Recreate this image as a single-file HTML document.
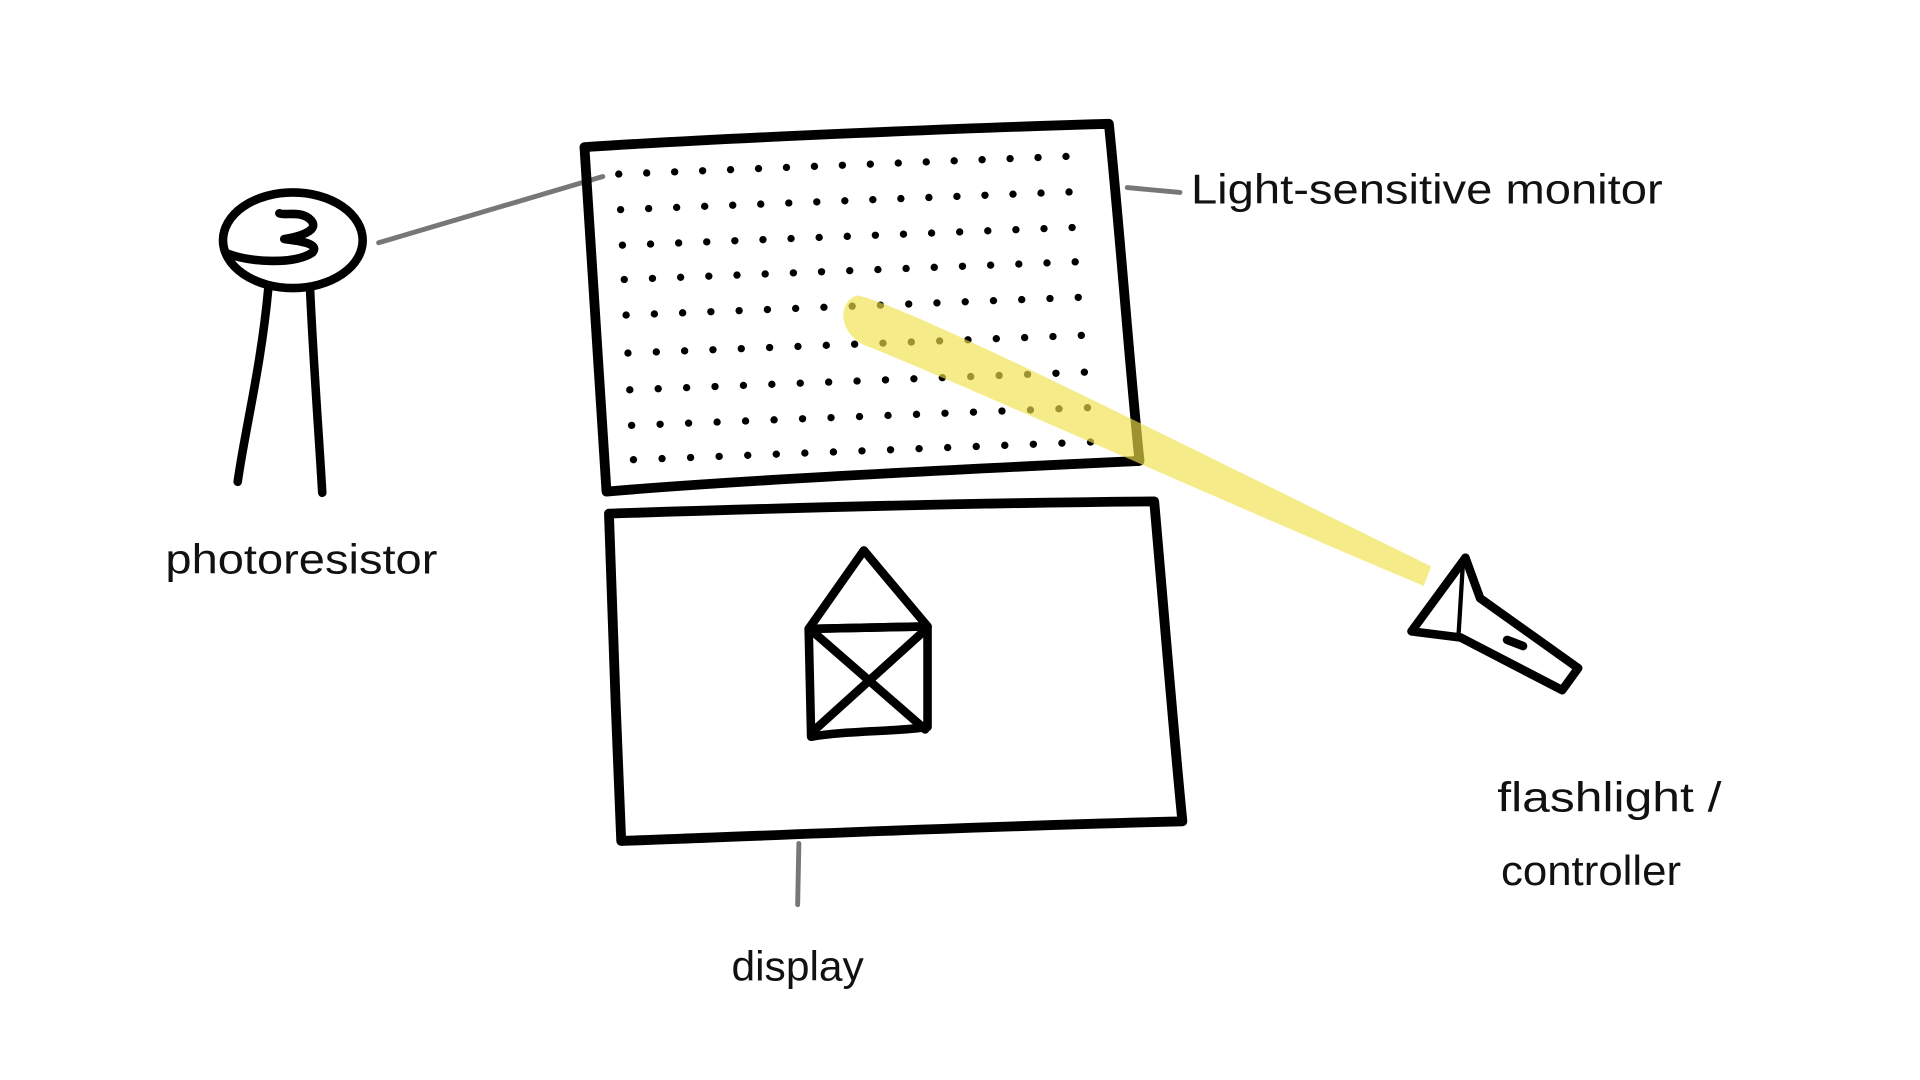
<!DOCTYPE html>
<html><head><meta charset="utf-8"><style>
html,body{margin:0;padding:0;background:#fff;width:1920px;height:1080px;overflow:hidden}
svg{display:block}
text{font-family:"Liberation Sans",sans-serif;fill:#111;font-weight:normal}
</style></head><body>
<svg id="s" width="1920" height="1080" viewBox="0 0 1567 881" preserveAspectRatio="none" xmlns="http://www.w3.org/2000/svg">
<g fill="none" stroke="#000" stroke-width="7" stroke-linecap="round" stroke-linejoin="round">
  <ellipse cx="239" cy="196" rx="57" ry="39"/>
  <path d="M186,207 C205,214 240,216 255,206 C262,198 240,196 232,195 C250,192 262,186 252,178 C244,172 232,176 228,174"/>
  <path d="M219,235 C213,300 200,350 194,393"/>
  <path d="M253,235 C256,300 260,350 263,402"/>
</g>
<g stroke="#777" stroke-width="4" stroke-linecap="round">
  <line x1="309" y1="198" x2="492" y2="144"/>
  <line x1="920" y1="153" x2="963" y2="157"/>
  <line x1="652" y1="688" x2="651" y2="738"/>
</g>
<g id="dots" fill="#000"></g>
<path d="M477,120 C600,112 800,104 905,101 C915,200 922,300 930,376 C800,382 600,392 495,401 C488,300 482,200 477,120 Z" fill="none" stroke="#000" stroke-width="8" stroke-linejoin="round"/>
<path d="M497,419 C650,414 820,410 942,409 C950,500 958,600 965,670 C800,674 620,682 507,686 C503,600 500,500 497,419 Z" fill="none" stroke="#000" stroke-width="8" stroke-linejoin="round"/>
<g fill="none" stroke="#000" stroke-width="7" stroke-linejoin="round" stroke-linecap="round">
  <path d="M660,513 L705,449 L757,511 Z"/>
  <path d="M660,513 L757,511 L757,593 C730,597 690,596 662,601 Z"/>
  <line x1="662" y1="514" x2="755" y2="595"/>
  <line x1="755" y1="514" x2="662" y2="598"/>
</g>
<path d="M700,241 C740,250 900,330 1168,462 L1162,478 C1000,410 800,320 712,284 C684,276 682,246 700,241 Z" fill="#efe24a" opacity="0.65"/>
<g fill="#fff" stroke="#000" stroke-width="7" stroke-linejoin="round" stroke-linecap="round">
  <path d="M1196,455 L1152,515 L1192,520 Z"/>
  <path d="M1196,455 L1208,488 L1288,545 L1275,563 L1192,520"/>
  <line x1="1230" y1="522" x2="1243" y2="527"/>
</g>
<g font-size="34">
  <text x="972" y="166" textLength="385" lengthAdjust="spacingAndGlyphs">Light-sensitive monitor</text>
  <text x="135" y="468" textLength="222" lengthAdjust="spacingAndGlyphs">photoresistor</text>
  <text x="597" y="800" textLength="108" lengthAdjust="spacingAndGlyphs">display</text>
  <text x="1222" y="662" textLength="183" lengthAdjust="spacingAndGlyphs">flashlight /</text>
  <text x="1225" y="722" textLength="147" lengthAdjust="spacingAndGlyphs">controller</text>
</g>
</svg>
<script>
const rowY=[142,171,200,228,257,288,318,347,375];
const colCount=[17,17,17,17,17,17,17,17,17];
const g=document.getElementById('dots');
rowY.forEach((y,r)=>{
  const x0=505+r*1.5, x1=870+r*2.5, n=colCount[r];
  for(let i=0;i<n;i++){
    const c=document.createElementNS('http://www.w3.org/2000/svg','circle');
    
    
    c.setAttribute('cx',x0+(x1-x0)*i/(n-1));
    c.setAttribute('cy',y-i*0.9);
    c.setAttribute('r',3);
    g.appendChild(c);
  }
});
</script>
</body></html>
